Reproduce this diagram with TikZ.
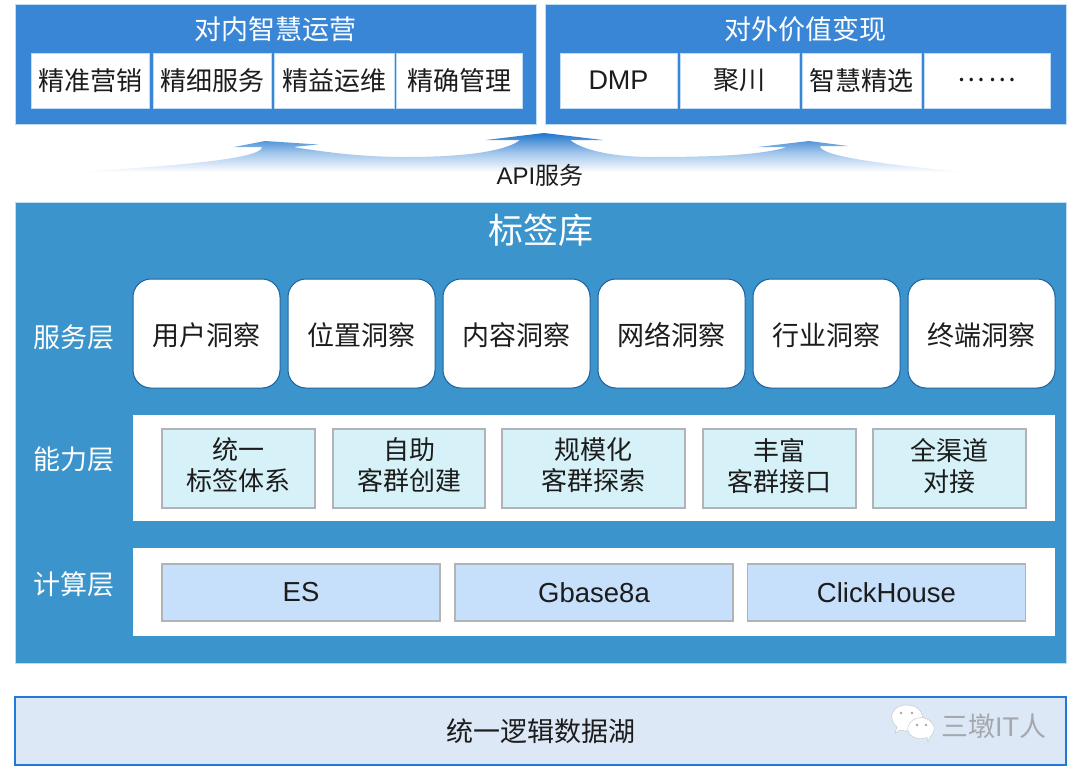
\documentclass[tikz,border=0pt]{standalone}
\usepackage{fontspec}
\setmainfont{Liberation Sans}
\newfontfamily\cjk{Noto Sans CJK SC}
\definecolor{topblue}{HTML}{3A86D6}
\definecolor{mainblue}{HTML}{3B94CB}
\definecolor{edgelight}{HTML}{BFDCF5}
\definecolor{svcedge}{HTML}{1F5F9E}
\definecolor{abilityfill}{HTML}{D6F2F8}
\definecolor{calcfill}{HTML}{C6E0FB}
\definecolor{boxedge}{HTML}{B0B4B8}
\definecolor{lakefill}{HTML}{DCE8F6}
\definecolor{lakeedge}{HTML}{2079D6}
\definecolor{arrowblue}{HTML}{1F76CE}
\definecolor{inktext}{HTML}{1C1C1C}
\definecolor{markgrey}{HTML}{A4A8AC}
\tikzset{
  panel/.style={draw=edgelight,line width=.6pt,fill=topblue},
  whitebox/.style={fill=white,draw=edgelight,line width=.8pt,inner sep=0pt,text=inktext,
    minimum height=55pt,font=\fontsize{27}{30}\selectfont},
  svcbox/.style={fill=white,draw=svcedge,line width=1pt,rounded corners=18pt,inner sep=0pt,
    text=inktext,minimum width=147pt,minimum height=109pt,text height=28pt,text depth=4pt,
    font=\cjk\fontsize{27}{30}\selectfont},
  abilitybox/.style={fill=abilityfill,draw=boxedge,line width=1.4pt,inner sep=0pt,text=inktext,align=center,
    minimum height=79pt,text depth=8pt,font=\cjk\fontsize{26}{31}\selectfont},
  calcbox/.style={fill=calcfill,draw=boxedge,line width=1.4pt,inner sep=0pt,text=inktext,
    minimum height=57pt,font=\fontsize{27.5}{30}\selectfont},
  layerlabel/.style={text=white,inner sep=0pt,font=\cjk\fontsize{27}{30}\selectfont},
  paneltitle/.style={text=white,inner sep=0pt,font=\cjk\fontsize{27}{30}\selectfont},
  bubble/.style={fill=white,draw=markgrey!70,line width=.4pt},
}
\begin{document}
\begin{tikzpicture}[x=1pt,y=-1pt]
  \useasboundingbox[fill=white] (0,0) rectangle (1080,774);

  % Upper panels
  \draw[panel] (15.5,4.5) rectangle (536,124);
  \draw[panel] (545,4.5) rectangle (1066,124);
  \node[paneltitle] (inner) at (275,29) {对内智慧运营};
  \node[paneltitle] (outer) at (805,29) {对外价值变现};
  \foreach \n/\x/\w/\t in {a/90/118/精准营销,b/212.5/118/精细服务,c/334/120/精益运维,d/459.5/126.5/精确管理}
    \node[whitebox,minimum width=\w pt,font=\cjk\fontsize{26}{30}\selectfont] (in\n) at (\x,80.5) {\t};
  \node[whitebox,minimum width=117pt] (outa) at (618.5,80.5) {DMP};
  \node[whitebox,minimum width=119pt,font=\cjk\fontsize{26}{30}\selectfont] (outb) at (739.5,80.5) {聚川};
  \node[whitebox,minimum width=119pt,font=\cjk\fontsize{26}{30}\selectfont] (outc) at (861.5,80.5) {智慧精选};
  \node[whitebox,minimum width=126pt,font=\cjk\fontsize{26}{30}\selectfont] (outd) at (987,80.5) {…\hspace{4pt}…};

  % Rising arrows
  \shade[top color=arrowblue,bottom color=white,middle color=arrowblue!42]
    (76,172) .. controls (190,165) and (262,158) .. (262,147) -- (234,147) -- (265,141) -- (318,144.5) -- (293,147)
    .. controls (330,153) and (365,157) .. (406,157) .. controls (460,157) and (505,152) .. (520,140)
    -- (486,140) -- (544,133) -- (603,140) -- (570,140)
    .. controls (585,152) and (620,157) .. (651,157) .. controls (700,157) and (760,156) .. (787,147)
    -- (758,147) -- (809,141) -- (848,146) -- (820,146)
    .. controls (820,156) and (880,164) .. (964,172) -- cycle;
  \node[inner sep=0pt,text=inktext,font=\fontsize{24}{28}\selectfont] (api) at (540,175) {API{\cjk 服务}};

  % Tag store
  \draw[panel,fill=mainblue] (15.5,202) rectangle (1066,663);
  \node[text=white,inner sep=0pt,font=\cjk\fontsize{35}{40}\selectfont] (store) at (540.5,230) {标签库};

  \node[layerlabel] (service) at (74,337) {服务层};
  \foreach \n/\x/\t in {a/206.5/用户洞察,b/361.5/位置洞察,c/516.5/内容洞察,d/671.5/网络洞察,e/826.5/行业洞察,f/981.5/终端洞察}
    \node[svcbox] (svc\n) at (\x,333.5) {\t};

  \node[layerlabel] (ability) at (74,459) {能力层};
  \fill[white] (133,415) rectangle (1055,521);
  \foreach \n/\x/\w/\s/\t in {a/238.5/153/统一/标签体系,b/409/152/自助/客群创建,c/593.5/183/规模化/客群探索,d/779.5/153/丰富/客群接口,e/949.5/153/全渠道/对接}
    \node[abilitybox,minimum width=\w pt] (abl\n) at (\x,468.5) {\s\\\t};

  \node[layerlabel] (compute) at (74,584) {计算层};
  \fill[white] (133,548) rectangle (1055,636);
  \foreach \n/\x/\t in {a/301/ES,b/594/Gbase8a,c/886.5/ClickHouse}
    \node[calcbox,minimum width=278pt] (calc\n) at (\x,592.5) {\t};

  % Data lake
  \node[draw=lakeedge,line width=2pt,fill=lakefill,inner sep=0pt,minimum width=1051pt,minimum height=68pt,
    text=inktext,font=\cjk\fontsize{27}{30}\selectfont] (lake) at (540.5,731) {统一逻辑数据湖};

  % Watermark
  \draw[bubble] (895,733.5) -- (897,727) .. controls (888,720) and (890,705) .. (907,705)
    .. controls (921,705) and (926,717) .. (920,726) .. controls (915,731) and (906,732) .. (900,730) -- cycle;
  \draw[bubble] (928,742) -- (927,737.5) .. controls (913,742) and (906,732) .. (908,727)
    .. controls (911,715) and (930,714) .. (934,727) .. controls (935,731) and (932,735) .. (930,737) -- cycle;
  \foreach \x/\y in {901/713,912/713,917/725,926/725}
    \fill[markgrey] (\x,\y) circle (1.3pt);
  \node[text=markgrey,inner sep=0pt,font=\fontsize{27}{30}\selectfont] (mark) at (993.5,726) {{\cjk 三墩}IT{\cjk 人}};
\end{tikzpicture}
\end{document}
